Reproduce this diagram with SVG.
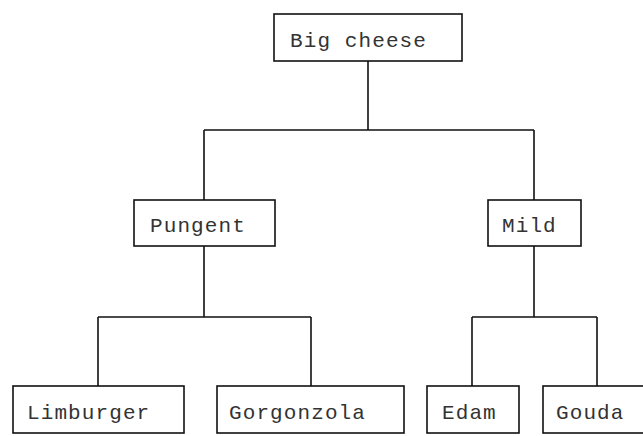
<svg xmlns="http://www.w3.org/2000/svg" width="643" height="436" viewBox="0 0 643 436">
<style>
.box{fill:#fff;stroke:#111;stroke-width:1.6}
.lbl{font-family:"Liberation Mono","Courier New",monospace;font-size:21px;letter-spacing:1.1px;fill:#333}
.con{stroke:#111;stroke-width:1.6;fill:none}
</style>
<rect width="643" height="436" fill="#fff"/>
<g id="connectors">
<path class="con" d="M368,61V130M204,130H534M204,130V200M534,130V200"/>
<path class="con" d="M204,246V317M98,317H311M98,317V386M311,317V386"/>
<path class="con" d="M534,246V317M472,317H597M472,317V386M597,317V386"/>
</g>
<g id="big-cheese"><rect class="box" x="274" y="14" width="188" height="47"/><text class="lbl" x="290" y="46.5">Big cheese</text></g>
<g id="pungent"><rect class="box" x="134" y="200" width="141" height="46"/><text class="lbl" x="150" y="232">Pungent</text></g>
<g id="mild"><rect class="box" x="488" y="200" width="93" height="46"/><text class="lbl" x="502" y="232">Mild</text></g>
<g id="limburger"><rect class="box" x="13" y="386" width="171" height="47"/><text class="lbl" x="27" y="418.5">Limburger</text></g>
<g id="gorgonzola"><rect class="box" x="217" y="386" width="187" height="47"/><text class="lbl" x="229" y="418.5">Gorgonzola</text></g>
<g id="edam"><rect class="box" x="427" y="386" width="92" height="47"/><text class="lbl" x="442" y="418.5">Edam</text></g>
<g id="gouda"><rect class="box" x="543" y="386" width="108" height="47"/><text class="lbl" x="556" y="418.5">Gouda</text></g>
</svg>
